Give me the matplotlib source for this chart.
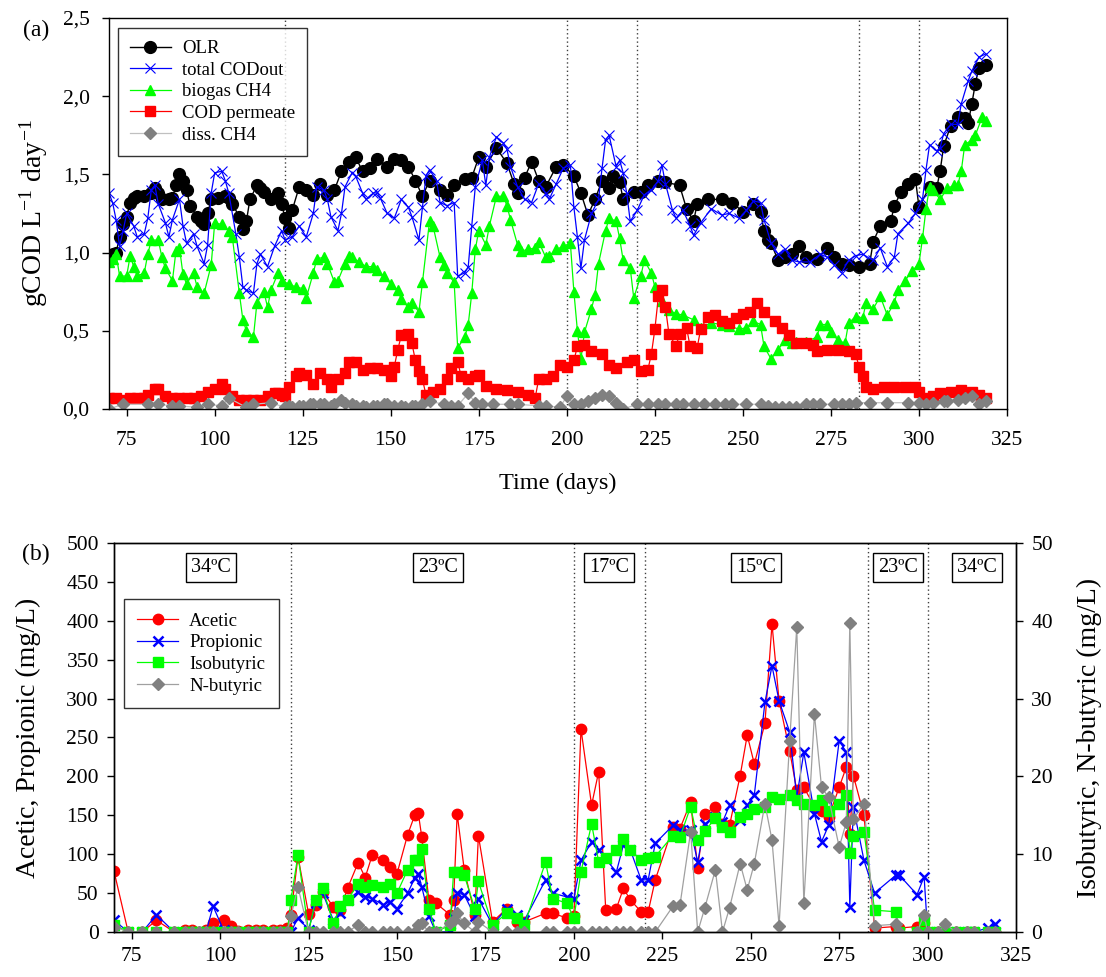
import matplotlib
matplotlib.use("Agg")
import matplotlib.pyplot as plt
import numpy as np

plt.rcParams['font.family'] = ['Liberation Serif', 'DejaVu Serif']
plt.rcParams['mathtext.fontset'] = 'stix'

# ---------------- Panel (a): COD balance ----------------
olr_days = [70, 71, 72, 73, 74, 75, 76, 77, 78, 80, 82, 83, 84, 85, 87, 88, 89, 90, 91, 92,
            93, 95, 96, 97, 98, 99, 101, 103, 104, 105, 107, 108, 109, 110, 112, 113, 114, 116,
            118, 119, 120, 121, 122, 124, 126, 128, 130, 132, 134, 136, 138, 140, 142, 144, 146,
            149, 151, 153, 155, 157, 159, 161, 164, 166, 168, 171, 173, 175, 177, 180, 183, 185,
            186, 188, 190, 192, 194, 197, 199, 202, 204, 206, 208, 210, 212, 213, 215, 216, 219,
            221, 223, 226, 228, 232, 234, 236, 237, 240, 244, 247, 250, 253, 255, 256, 257, 258,
            260, 262, 264, 266, 268, 271, 274, 276, 278, 280, 283, 286, 287, 289, 292, 293, 295,
            297, 299, 300, 303, 305, 306, 307, 309, 311, 313, 314, 315, 316, 317, 319]
olr = [0.98, 0.99, 1.00, 1.10, 1.18, 1.23, 1.32, 1.35, 1.36, 1.36, 1.38, 1.41, 1.38, 1.34, 1.34,
       1.35, 1.43, 1.50, 1.46, 1.40, 1.30, 1.23, 1.20, 1.18, 1.25, 1.34, 1.35, 1.36, 1.35, 1.31,
       1.23, 1.15, 1.20, 1.34, 1.43, 1.41, 1.39, 1.34, 1.38, 1.31, 1.22, 1.16, 1.27, 1.42, 1.40,
       1.37, 1.44, 1.37, 1.40, 1.52, 1.58, 1.61, 1.52, 1.54, 1.60, 1.55, 1.60, 1.59, 1.55, 1.46,
       1.36, 1.46, 1.40, 1.37, 1.43, 1.47, 1.48, 1.61, 1.55, 1.67, 1.57, 1.44, 1.38, 1.48, 1.58,
       1.46, 1.42, 1.55, 1.56, 1.49, 1.38, 1.24, 1.34, 1.46, 1.41, 1.49, 1.45, 1.34, 1.39, 1.39,
       1.43, 1.46, 1.45, 1.43, 1.28, 1.20, 1.31, 1.34, 1.34, 1.32, 1.26, 1.31, 1.26, 1.14, 1.08,
       1.06, 0.95, 0.97, 0.99, 1.04, 0.97, 0.96, 1.03, 0.97, 0.93, 0.92, 0.91, 0.93, 1.07, 1.17,
       1.20, 1.30, 1.39, 1.44, 1.47, 1.29, 1.42, 1.41, 1.52, 1.68, 1.81, 1.87, 1.86, 1.83, 1.95,
       2.08, 2.18, 2.20]

codout_days = [70, 71, 72, 73, 74, 75, 77, 78, 80, 81, 82, 83, 84, 86, 87, 88, 90, 91, 92, 94,
               95, 97, 98, 99, 100, 102, 103, 104, 106, 107, 108, 109, 111, 112, 113, 115, 117,
               119, 120, 122, 124, 126, 128, 129, 131, 132, 133, 135, 136, 137, 139, 140, 142,
               143, 145, 146, 147, 149, 151, 153, 155, 156, 158, 159, 160, 161, 163, 164, 166,
               168, 169, 171, 172, 173, 174, 176, 177, 178, 180, 182, 183, 184, 186, 188, 190,
               192, 194, 195, 197, 199, 201, 202, 203, 204, 205, 207, 209, 210, 211, 212, 214,
               215, 216, 217, 218, 220, 222, 224, 226, 227, 228, 230, 231, 233, 235, 236, 238,
               241, 244, 246, 249, 251, 253, 255, 256, 258, 260, 262, 264, 266, 269, 272, 274,
               276, 278, 280, 282, 284, 287, 289, 291, 293, 294, 297, 299, 301, 302, 303, 305,
               306, 307, 309, 311, 312, 314, 315, 317, 319]
codout = [1.38, 1.32, 1.21, 1.04, 1.14, 1.25, 1.17, 1.10, 1.12, 1.22, 1.40, 1.43, 1.31, 1.19,
          1.10, 1.21, 1.34, 1.17, 1.06, 1.12, 1.04, 0.93, 1.05, 1.38, 1.51, 1.52, 1.46, 1.38,
          1.12, 0.97, 0.78, 0.76, 0.74, 0.93, 0.99, 0.91, 1.04, 1.14, 1.08, 1.10, 1.17, 1.10,
          1.25, 1.42, 1.40, 1.34, 1.23, 1.14, 1.25, 1.42, 1.51, 1.49, 1.38, 1.34, 1.38, 1.39,
          1.35, 1.25, 1.22, 1.34, 1.29, 1.23, 1.08, 1.29, 1.49, 1.53, 1.46, 1.32, 1.30, 1.32,
          0.85, 0.87, 0.91, 1.17, 1.42, 1.59, 1.43, 1.61, 1.74, 1.70, 1.66, 1.55, 1.42, 1.34,
          1.32, 1.44, 1.38, 1.34, 1.44, 1.54, 1.56, 1.29, 1.10, 0.90, 1.08, 1.25, 1.34, 1.54,
          1.72, 1.75, 1.55, 1.59, 1.51, 1.38, 1.20, 1.27, 1.37, 1.40, 1.46, 1.56, 1.44, 1.27,
          1.22, 1.27, 1.17, 1.11, 1.19, 1.28, 1.24, 1.25, 1.22, 1.27, 1.33, 1.32, 1.21, 1.06,
          0.99, 1.02, 0.95, 0.94, 0.94, 0.99, 0.97, 0.92, 0.87, 0.95, 0.98, 0.99, 0.95, 1.03,
          0.91, 0.97, 1.12, 1.19, 1.25, 1.34, 1.53, 1.69, 1.65, 1.67, 1.76, 1.82, 1.82, 1.95,
          2.10, 2.16, 2.25, 2.27]

biogas_days = [70, 71, 72, 73, 75, 76, 77, 78, 80, 81, 82, 84, 85, 86, 88, 89, 90, 91, 92, 94,
               95, 97, 99, 100, 102, 104, 105, 107, 108, 109, 111, 112, 114, 115, 116, 118, 119,
               121, 123, 125, 126, 128, 129, 131, 132, 134, 135, 137, 138, 139, 141, 143, 145,
               146, 148, 150, 152, 153, 155, 156, 158, 159, 161, 162, 164, 165, 166, 168, 169,
               171, 172, 173, 174, 175, 177, 178, 180, 182, 183, 184, 186, 187, 189, 191, 192,
               194, 195, 197, 199, 201, 202, 203, 204, 205, 207, 208, 209, 211, 212, 214, 215,
               216, 218, 219, 221, 222, 224, 225, 227, 229, 231, 233, 236, 238, 241, 244, 246,
               249, 251, 253, 255, 256, 258, 260, 262, 264, 265, 268, 271, 272, 274, 275, 277,
               279, 280, 282, 284, 285, 287, 289, 291, 293, 294, 296, 298, 300, 301, 302, 303,
               304, 306, 308, 310, 311, 312, 313, 315, 316, 318, 319]
biogas = [0.94, 0.96, 0.99, 0.85, 0.85, 0.98, 0.91, 0.85, 0.87, 0.99, 1.08, 1.08, 0.97, 0.90,
          0.82, 1.01, 1.03, 0.86, 0.80, 0.87, 0.78, 0.74, 0.92, 1.19, 1.18, 1.14, 1.10, 0.74,
          0.57, 0.50, 0.46, 0.68, 0.75, 0.65, 0.76, 0.87, 0.82, 0.80, 0.78, 0.77, 0.71, 0.87,
          0.96, 0.97, 0.93, 0.81, 0.82, 0.93, 0.98, 0.97, 0.94, 0.91, 0.91, 0.89, 0.85, 0.80,
          0.76, 0.70, 0.65, 0.68, 0.62, 0.81, 1.20, 1.17, 0.97, 0.92, 0.87, 0.81, 0.39, 0.46,
          0.54, 0.74, 1.02, 1.14, 1.05, 1.17, 1.36, 1.36, 1.30, 1.21, 1.05, 1.01, 1.02, 1.03,
          1.07, 0.97, 0.98, 1.02, 1.04, 1.06, 0.75, 0.50, 0.32, 0.49, 0.64, 0.73, 0.93, 1.14,
          1.22, 1.20, 1.09, 0.95, 0.90, 0.71, 0.85, 0.95, 0.87, 0.78, 0.69, 0.63, 0.61, 0.60,
          0.57, 0.52, 0.55, 0.54, 0.53, 0.51, 0.52, 0.56, 0.54, 0.40, 0.32, 0.38, 0.44, 0.42,
          0.43, 0.43, 0.46, 0.54, 0.54, 0.49, 0.44, 0.42, 0.55, 0.59, 0.58, 0.68, 0.64, 0.72,
          0.60, 0.68, 0.76, 0.82, 0.88, 0.93, 1.09, 1.28, 1.42, 1.40, 1.34, 1.41, 1.43, 1.43,
          1.52, 1.69, 1.72, 1.75, 1.87, 1.84]

perm_days = [70, 72, 74, 76, 78, 80, 81, 83, 84, 86, 88, 90, 92, 94, 96, 98, 100, 102, 103,
             105, 107, 109, 111, 113, 115, 117, 118, 119, 120, 121, 123, 124, 126, 128, 130,
             132, 133, 135, 137, 138, 140, 142, 144, 146, 148, 150, 151, 152, 153, 155, 156,
             157, 158, 159, 160, 162, 164, 166, 167, 169, 170, 172, 174, 175, 177, 180, 183,
             186, 189, 191, 192, 194, 196, 198, 200, 202, 203, 205, 207, 210, 212, 214, 217,
             219, 221, 223, 224, 225, 226, 227, 228, 229, 231, 232, 234, 235, 237, 238, 240,
             242, 244, 246, 248, 250, 252, 254, 256, 259, 261, 263, 265, 268, 270, 271, 274,
             277, 280, 282, 283, 284, 285, 287, 290, 293, 296, 299, 300, 302, 304, 306, 309,
             312, 315, 317, 319]
perm = [0.07, 0.07, 0.06, 0.07, 0.07, 0.07, 0.09, 0.13, 0.13, 0.08, 0.07, 0.07, 0.07, 0.07,
        0.08, 0.11, 0.13, 0.16, 0.13, 0.08, 0.06, 0.06, 0.06, 0.06, 0.08, 0.10, 0.10, 0.09,
        0.08, 0.14, 0.21, 0.23, 0.22, 0.16, 0.23, 0.19, 0.14, 0.19, 0.23, 0.30, 0.30, 0.25,
        0.26, 0.26, 0.25, 0.21, 0.27, 0.38, 0.47, 0.48, 0.42, 0.31, 0.24, 0.19, 0.09, 0.11,
        0.13, 0.19, 0.26, 0.30, 0.21, 0.19, 0.21, 0.22, 0.15, 0.13, 0.12, 0.11, 0.09, 0.07,
        0.19, 0.19, 0.21, 0.28, 0.27, 0.31, 0.40, 0.41, 0.37, 0.35, 0.28, 0.26, 0.30, 0.31,
        0.24, 0.25, 0.35, 0.51, 0.72, 0.76, 0.65, 0.48, 0.40, 0.48, 0.52, 0.40, 0.39, 0.51,
        0.59, 0.60, 0.56, 0.55, 0.58, 0.61, 0.62, 0.68, 0.62, 0.56, 0.52, 0.47, 0.42, 0.42,
        0.41, 0.37, 0.38, 0.38, 0.37, 0.35, 0.27, 0.21, 0.14, 0.13, 0.14, 0.14, 0.14, 0.14,
        0.11, 0.07, 0.08, 0.10, 0.11, 0.12, 0.11, 0.09, 0.07]

dissch4_days = [70, 74, 81, 84, 88, 90, 95, 98, 102, 104, 109, 111, 116, 120, 121, 122, 124,
                125, 127, 128, 130, 131, 133, 134, 136, 137, 139, 140, 142, 143, 145, 146, 148,
                149, 151, 153, 154, 156, 157, 159, 161, 165, 167, 169, 172, 174, 176, 179, 184,
                186, 192, 194, 198, 200, 202, 204, 206, 208, 210, 212, 214, 216, 220, 223, 226,
                228, 231, 233, 236, 239, 242, 245, 247, 251, 255, 257, 259, 261, 263, 265, 268,
                270, 272, 276, 278, 280, 282, 286, 291, 297, 300, 302, 304, 307, 308, 311, 313,
                315, 317, 319]
dissch4 = [0.00, 0.03, 0.03, 0.03, 0.02, 0.02, 0.01, 0.03, 0.02, 0.07, 0.01, 0.03, 0.04, 0.01,
           0.02, 0.01, 0.02, 0.02, 0.03, 0.03, 0.03, 0.03, 0.02, 0.03, 0.06, 0.04, 0.03, 0.02,
           0.02, 0.01, 0.02, 0.02, 0.03, 0.03, 0.02, 0.02, 0.01, 0.02, 0.02, 0.03, 0.05, 0.03,
           0.02, 0.02, 0.10, 0.04, 0.03, 0.03, 0.03, 0.03, 0.02, 0.02, 0.01, 0.08, 0.03, 0.03,
           0.05, 0.07, 0.09, 0.08, 0.04, 0.00, 0.03, 0.03, 0.03, 0.03, 0.03, 0.03, 0.03, 0.03,
           0.03, 0.03, 0.03, 0.03, 0.03, 0.02, 0.01, 0.01, 0.01, 0.01, 0.03, 0.03, 0.03, 0.03,
           0.03, 0.03, 0.04, 0.04, 0.04, 0.04, 0.04, 0.03, 0.04, 0.05, 0.05, 0.06, 0.07, 0.08,
           0.03, 0.05]

# ---------------- Panel (b): volatile fatty acids ----------------
vfa_days = [70, 74, 78, 82, 87, 90, 92, 94, 96, 98, 101, 103, 105, 108, 110, 112, 115, 117, 119,
            120, 122, 125, 127, 129, 132, 134, 136, 139, 141, 143, 146, 148, 150, 153, 155, 156,
            157, 159, 161, 165, 166, 167, 169, 172, 173, 177, 181, 184, 186, 192, 194, 198, 200,
            202, 205, 207, 209, 212, 214, 216, 219, 221, 223, 228, 230, 233, 235, 237, 240, 242,
            244, 247, 249, 251, 254, 256, 258, 261, 263, 265, 268, 270, 272, 275, 277, 278, 279,
            282, 285, 291, 292, 297, 299, 300, 303, 305, 308, 311, 313, 317, 319]
acetic = [78, 0, 0, 15, 0, 2, 3, 0, 3, 12, 15, 8, 1, 2, 2, 2, 2, 3, 5,
          22, 97, 23, 35, 52, 32, 28, 56, 89, 70, 99, 93, 83, 75, 125, 150, 153,
          122, 41, 37, 22, 41, 152, 80, 22, 124, 13, 30, 13, 13, 24, 24, 18, 20,
          261, 163, 206, 28, 30, 56, 41, 26, 26, 67, 135, 133, 167, 82, 152, 161, 139,
          137, 201, 253, 216, 268, 396, 297, 233, 182, 186, 161, 156, 148, 186, 212, 126, 201,
          150, 5, 7, 5, 7, 11, 0, 0, 0, 0, 0, 0, 0, 0]
propionic = [15, 0, 0, 22, 0, 0, 0, 0, 0, 33, 2, 0, 0, 0, 0, 0, 0, 0, 0,
             0, 18, 3, 37, 50, 15, 24, 41, 52, 45, 43, 35, 39, 30, 50, 69, 75,
             58, 20, 0, 0, 18, 50, 48, 20, 43, 9, 30, 22, 15, 67, 50, 45, 43,
             92, 116, 105, 94, 77, 112, 105, 67, 67, 114, 137, 131, 131, 90, 139, 148, 141,
             163, 144, 163, 176, 295, 342, 297, 257, 173, 231, 152, 116, 137, 246, 231, 32, 161,
             92, 50, 73, 73, 48, 71, 0, 0, 0, 0, 0, 0, 5, 10]
isobutyric = [0.9, 0, 0, 0, 0, 0, 0, 0, 0, 0, 0, 0, 0, 0, 0, 0, 0, 0, 0,
              4.1, 9.9, 0, 4.1, 5.6, 1.1, 3.3, 4.1, 6.2, 5.8, 6.0, 5.8, 6.2, 5.0, 8.0, 9.2, 9.2,
              10.7, 3.0, 0, 0.9, 7.7, 7.7, 7.3, 3.0, 6.5, 0.9, 2.4, 1.8, 0.9, 9.0, 4.3, 3.7, 1.8,
              7.7, 13.9, 9.0, 9.5, 10.5, 12.0, 10.5, 9.2, 9.5, 9.7, 12.4, 12.2, 16.1, 11.8, 13.0,
              14.6, 13.5, 12.9, 14.8, 15.2, 15.8, 16.1, 17.3, 17.1, 17.6, 16.9, 16.5, 16.3, 16.9,
              15.6, 16.5, 17.6, 10.1, 12.4, 12.9, 2.8, 2.6, 0, 0, 1.5, 0, 0, 0, 0, 0, 0, 0, 0]
nbutyric = [0.7, 0, 0, 0, 0, 0, 0, 0, 0, 0, 0, 0, 0, 0, 0, 0, 0, 0, 0,
            2.0, 5.8, 0, 0, 0, 0, 0, 0, 0.9, 0, 0, 0, 0, 0, 0, 0, 0.9,
            1.1, 0, 0, 1.1, 1.5, 2.4, 1.1, 0, 1.3, 0, 0, 0, 0, 0, 0, 0, 0,
            0, 0, 0, 0, 0, 0, 0, 0, 0, 0, 3.3, 3.5, 12.9, 0, 3.1, 8.0, 0,
            3.1, 8.8, 5.4, 8.8, 16.5, 11.8, 0.8, 24.6, 39.2, 3.7, 28.0, 18.6, 17.3, 10.9, 14.1,
            39.7, 14.5, 16.5, 0.8, 1.0, 0, 0, 2.2, 0, 0, 1.0, 0, 0, 0, 0, 0]

phase_bounds = [120, 200, 220, 283, 300]
phase_labels = ['34ºC', '23ºC', '17ºC', '15ºC', '23ºC', '34ºC']
phase_centers = [97.5, 161.5, 210, 251.5, 291.5, 314]

xticks = [75, 100, 125, 150, 175, 200, 225, 250, 275, 300, 325]

GREEN = '#00ff00'
RED = '#ff0000'
BLUE = '#0000ff'
GRAY = '#808080'
FS = 15.5
LEG_KW = dict(borderaxespad=0, fontsize=13.5, frameon=True, fancybox=False,
              edgecolor='black', handlelength=2.15, labelspacing=0.24,
              handletextpad=0.6)

fig = plt.figure(figsize=(11.06, 9.77), dpi=100)

# ---------- panel (a) ----------
ax1 = fig.add_axes([0.0986, 0.5814, 0.8119, 0.4002])
ax1.plot(olr_days, olr, '-', color='black', lw=1, marker='o', ms=8.5, mfc='black',
         mec='black', label='OLR')
ax1.plot(codout_days, codout, '-', color=BLUE, lw=0.9, marker='x', ms=7, mew=0.8,
         label='total CODout')
ax1.plot(biogas_days, biogas, '-', color=GREEN, lw=0.9, marker='^', ms=7.5, mec=GREEN,
         label='biogas CH4')
ax1.plot(perm_days, perm, '-', color=RED, lw=0.9, marker='s', ms=7.5, mec=RED,
         label='COD permeate')
ax1.plot(dissch4_days, dissch4, '-', color='#c0c0c0', lw=0.9, marker='D', ms=6.5, mfc=GRAY,
         mec=GRAY, label='diss. CH4')
for b in phase_bounds:
    ax1.axvline(b, color='#404040', lw=1, ls=(0, (1, 2)), zorder=0)
ax1.set_xlim(70, 325)
ax1.set_ylim(0, 2.5)
ax1.set_xticks(xticks)
ax1.set_xticklabels([str(t) for t in xticks], fontsize=FS)
yt1 = [0, 0.5, 1.0, 1.5, 2.0, 2.5]
ax1.set_yticks(yt1)
ax1.set_yticklabels([f'{v:.1f}'.replace('.', ',') for v in yt1], fontsize=FS)
ax1.tick_params(direction='out', length=5, width=1)
ax1.tick_params(axis='x', pad=11)
ax1.tick_params(axis='y', pad=9)
ax1.set_xlabel('Time (days)', fontsize=17.5, labelpad=16)
leg1 = ax1.legend(loc='upper left', bbox_to_anchor=(0.01, 0.975), borderpad=0.65,
                  **LEG_KW)
leg1.get_frame().set_linewidth(1)
for s in ax1.spines.values():
    s.set_linewidth(1)
fig.text(0.030, 0.782, r'gCOD L$^{\mathregular{-1}}$ day$^{\mathregular{-1}}$',
         rotation=90, ha='center', va='center', fontsize=20)
fig.text(0.033, 0.969, '(a)', ha='center', va='center', fontsize=17)

# ---------- panel (b) ----------
ax2 = fig.add_axes([0.1031, 0.0461, 0.8156, 0.3981])
ax3 = ax2.twinx()
ax2.plot(vfa_days, acetic, '-', color=RED, lw=0.9, marker='o', ms=7.5, mec=RED,
         label='Acetic')
ax2.plot(vfa_days, propionic, '-', color=BLUE, lw=0.9, marker='x', ms=7, mew=1.8,
         label='Propionic')
ax3.plot(vfa_days, isobutyric, '-', color=GREEN, lw=0.9, marker='s', ms=7, mec=GREEN,
         label='Isobutyric')
ax3.plot(vfa_days, nbutyric, '-', color='#a0a0a0', lw=0.9, marker='D', ms=6.5, mfc=GRAY,
         mec=GRAY, label='N-butyric')
for b in phase_bounds:
    ax2.axvline(b, color='#404040', lw=1, ls=(0, (1, 2)), zorder=0)
ax2.set_xlim(70, 325)
ax2.set_ylim(0, 500)
ax3.set_ylim(0, 50)
ax2.set_xticks(xticks)
ax2.set_xticklabels([str(t) for t in xticks], fontsize=FS)
ax2.set_yticks(np.arange(0, 501, 50))
ax2.set_yticklabels([str(v) for v in range(0, 501, 50)], fontsize=FS)
ax3.set_yticks(np.arange(0, 51, 10))
ax3.set_yticklabels([str(v) for v in range(0, 51, 10)], fontsize=FS)
ax2.tick_params(direction='out', length=5, width=1, pad=6)
ax3.tick_params(direction='out', length=5, width=1, pad=6)
for lab, xc in zip(phase_labels, phase_centers):
    ax2.text(xc, 468, lab, ha='center', va='center', fontsize=14.5,
             bbox=dict(boxstyle='square,pad=0.25', fc='white', ec='black', lw=1))
h2, l2 = ax2.get_legend_handles_labels()
h3, l3 = ax3.get_legend_handles_labels()
leg2 = ax3.legend(h2 + h3, l2 + l3, loc='upper left', bbox_to_anchor=(0.011, 0.856),
                  borderpad=0.72, **LEG_KW)
leg2.get_frame().set_linewidth(1)
for s in list(ax2.spines.values()) + list(ax3.spines.values()):
    s.set_linewidth(1)
fig.text(0.026, 0.245, 'Acetic, Propionic (mg/L)', rotation=90, ha='center', va='center',
         fontsize=20)
fig.text(0.985, 0.245, 'Isobutyric, N-butyric (mg/L)', rotation=90, ha='center',
         va='center', fontsize=20)
fig.text(0.032, 0.433, '(b)', ha='center', va='center', fontsize=17)

fig.savefig('out.png', dpi=100)
